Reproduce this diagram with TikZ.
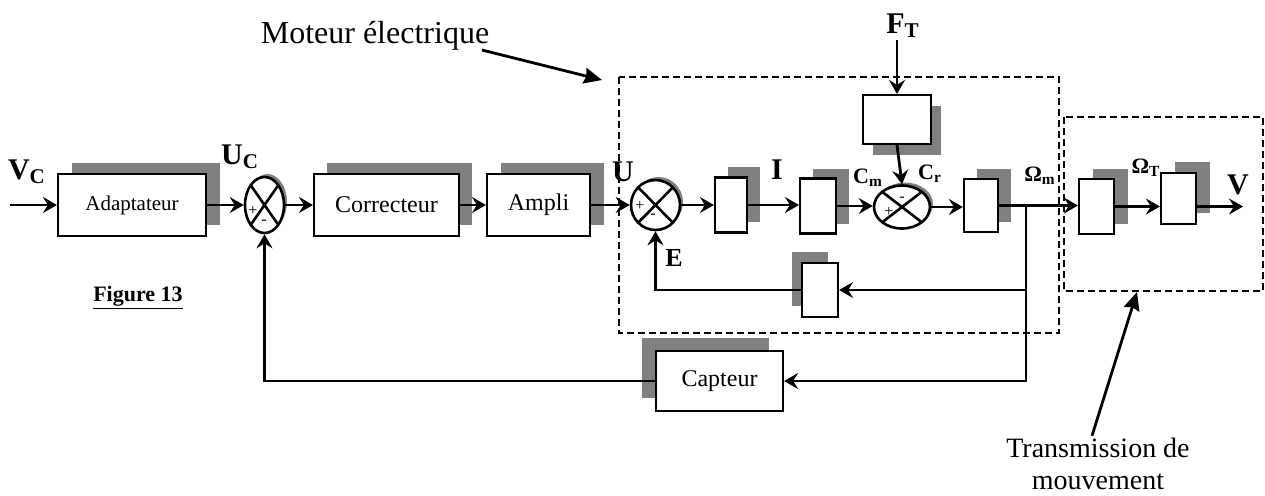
\documentclass[tikz,border=0pt]{standalone}
\usepackage{fontspec}
\setmainfont{Liberation Serif}
\usepackage{tikz}
\usetikzlibrary{positioning,arrows.meta,shapes.geometric,shadows}

\begin{document}
\begin{tikzpicture}[x=0.5pt, y=-0.5pt,
  >={Stealth[length=7pt, width=8pt, inset=2.5pt]},
  sig/.style={->, line width=1.4pt},
  wire/.style={line width=1.4pt},
  blk/.style={draw, line width=1.1pt, fill=white, inner sep=0pt},
  shd/.style 2 args={drop shadow={shadow xshift=#1, shadow yshift=#2, fill=gray, opacity=1}},
  sumj/.style={ellipse, draw, line width=1.3pt, fill=white, inner sep=0pt, shd={1.5pt}{1.5pt},
    path picture={\draw[line width=1.3pt] (path picture bounding box.north west) -- (path picture bounding box.south east)
      (path picture bounding box.north east) -- (path picture bounding box.south west);}},
  txt/.style={font=\fontsize{12}{14}\selectfont},
  lbl/.style={font=\bfseries\fontsize{15}{15}\selectfont, inner sep=1pt},
  slbl/.style={font=\bfseries\fontsize{11}{11}\selectfont, inner sep=1pt},
  sgn/.style={font=\fontsize{8}{8}\selectfont, inner sep=0pt},
  zone/.style={draw, line width=1pt, dash pattern=on 3.5pt off 2pt},
  note/.style={font=\fontsize{16}{17}\selectfont, inner sep=1pt},
  notearrow/.style={-{Stealth[length=9pt, width=8pt, inset=1pt]}, line width=1.4pt}
]
\useasboundingbox (0,0) rectangle (1265,495);

% --- dashed zones ---
\draw[zone] (619,77) rectangle (1059,333);
\draw[zone] (1064,117) rectangle (1263,291);

% --- forward chain ---
\coordinate (vin) at (10,205);
\node[blk, shd={7pt}{5.5pt}, txt, font=\fontsize{10.5}{12}\selectfont, minimum width=74pt, minimum height=31pt] (adapt) at (132,205) {Adaptateur};
\node[sumj, minimum width=19.5pt, minimum height=28pt] (sumA) at (264.5,205) {};
\node[blk, shd={6.5pt}{5.5pt}, txt, minimum width=72.5pt, minimum height=31pt] (corr) at (386.5,205) {Correcteur};
\node[blk, shd={7pt}{5.5pt}, txt, minimum width=51.5pt, minimum height=31pt] (ampli) at (538.5,205) {Ampli};

% --- moteur electrique ---
\node[sumj, minimum width=24.5pt, minimum height=25pt] (sumB) at (655.5,205) {};
\node[blk, shd={6.5pt}{5.5pt}, minimum width=16pt, minimum height=27.5pt] (blkA) at (731,205) {};
\node[blk, shd={6.5pt}{5pt}, minimum width=18pt, minimum height=27.5pt] (blkB) at (818,206) {};
\node[sumj, minimum width=28pt, minimum height=21.5pt] (sumC) at (902,207) {};
\node[blk, shd={5pt}{-5.5pt}, minimum width=34pt, minimum height=24.5pt] (blkF) at (897,119.5) {};
\node[blk, shd={6.5pt}{5pt}, minimum width=17pt, minimum height=26.5pt] (blkC) at (981,205.5) {};
\node[blk, shd={-5pt}{5.5pt}, minimum width=18pt, minimum height=27pt] (blkFb) at (820,290) {};

% --- transmission ---
\node[blk, shd={7pt}{5pt}, minimum width=17.5pt, minimum height=27.5pt] (blkD) at (1096.5,206.5) {};
\node[blk, shd={7pt}{5.5pt}, minimum width=17.5pt, minimum height=25.5pt] (blkE) at (1178.5,198.5) {};
\coordinate (vout) at (1243,206.5);
\coordinate (br) at (1026,205.5);

% --- capteur ---
\node[blk, shd={-7pt}{6.5pt}, txt, minimum width=63.5pt, minimum height=30pt] (capt) at (719.5,381) {Capteur};

% --- signal labels ---
\node[lbl] (lblVc) at (27,172) {V\textsubscript{C}};
\node[lbl] (lblUc) at (240,157) {U\textsubscript{C}};
\node[lbl] (lblU) at (623,172) {U};
\node[lbl] (lblI) at (777,170) {I};
\node[slbl] (lblCm) at (868,178) {C\textsubscript{m}};
\node[slbl] (lblCr) at (930,174) {C\textsubscript{r}};
\node[slbl] (lblOm) at (1040,176) {Ω\textsubscript{m}};
\node[slbl] (lblOt) at (1146,168) {Ω\textsubscript{T}};
\node[lbl] (lblV) at (1238,185) {V};
\node[lbl, font=\bfseries\fontsize{13}{13}\selectfont] (lblE) at (674,258) {E};
\node[lbl] (ft) at (903,26) {F\textsubscript{T}};

% --- signs ---
\node[sgn] at (253,211) {+};
\node[sgn] at (264,222) {-};
\node[sgn] at (640,206) {+};
\node[sgn] at (653,216) {-};
\node[sgn] at (902,199) {-};
\node[sgn] at (889,212) {+};

% --- connections ---
\draw[sig] (vin) -- (adapt.west);
\draw[sig] (adapt.east) -- (sumA.west);
\draw[sig] (sumA.east) -- (corr.west);
\draw[sig] (corr.east) -- (ampli.west);
\draw[sig] (ampli.east) -- (sumB.west);
\draw[sig] (sumB.east) -- (blkA.west);
\draw[sig] (blkA.east) -- (blkA.east -| blkB.west);
\draw[sig] (blkB.east) -- (blkB.east -| sumC.west);
\draw[sig] (ft.south -| blkF.north) -- (blkF.north);
\draw[sig] (blkF.south) -- (sumC.north);
\draw[sig] (sumC.east) -- (sumC.east -| blkC.west);
\draw[sig] (blkC.east) -- (blkC.east -| blkD.west);
\draw[sig] (blkD.east) -- (blkD.east -| blkE.west);
\draw[sig] (blkE.east |- vout) -- (vout);
\draw[sig] (br) |- (blkFb.east);
\draw[sig] (br) |- (capt.east);
\draw[sig] (blkFb.west) -| (sumB.south);
\draw[sig] (capt.west) -| (sumA.south);

% --- annotations ---
\node[note] (moteur) at (375,36) {Moteur électrique};
\coordinate (moteurA) at (482,50);
\coordinate (moteurB) at (602,80);
\draw[notearrow] (moteurA) -- (moteurB);
\node[note, align=center, font=\fontsize{14}{16}\selectfont] (transm) at (1098,464) {Transmission de\\mouvement};
\coordinate (transmB) at (1137,292);
\draw[notearrow] (transm.north) ++(-6,0) coordinate (transmA) -- (transmB);
\node[font=\bfseries\fontsize{11}{11}\selectfont] (fig) at (138,298) {\underline{Figure 13}};

\end{tikzpicture}
\end{document}
